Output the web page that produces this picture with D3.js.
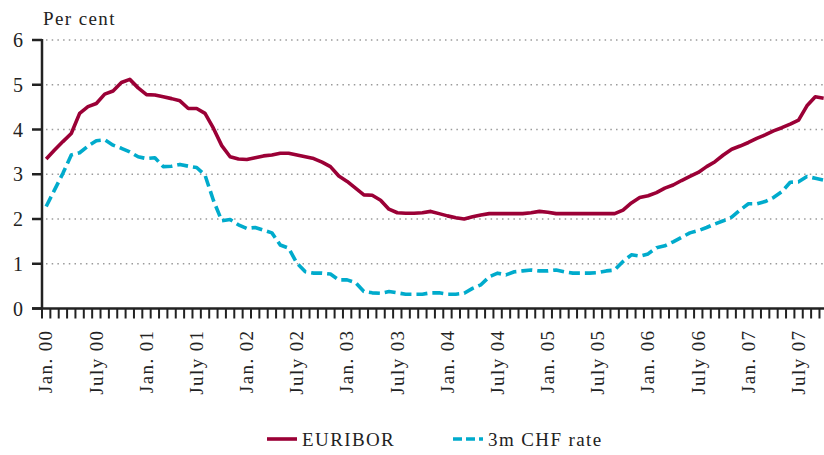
<!DOCTYPE html>
<html>
<head>
<meta charset="utf-8">
<script src="https://cdn.jsdelivr.net/npm/d3@7"></script>
<style>
  body { margin: 0; background: #fff; }
  svg text { font-family: 'Liberation Serif', 'Times New Roman', serif; fill: #222; }
</style>
</head>
<body>
<div id="chart"></div>
<script>
// monthly values, Jan. 2000 .. Oct. 2007
const euribor = [
  3.34, 3.54, 3.73, 3.91, 4.36, 4.51, 4.58, 4.79, 4.86, 5.05, 5.12, 4.93,
  4.78, 4.77, 4.73, 4.69, 4.64, 4.47, 4.47, 4.36, 4.03, 3.64, 3.39, 3.34,
  3.33, 3.37, 3.41, 3.43, 3.47, 3.47, 3.43, 3.39, 3.35, 3.27, 3.17, 2.96,
  2.84, 2.69, 2.54, 2.53, 2.42, 2.22, 2.14, 2.13, 2.13, 2.14, 2.17, 2.12,
  2.07, 2.03, 2.0, 2.05, 2.09, 2.12, 2.12, 2.12, 2.12, 2.12, 2.14, 2.17,
  2.15, 2.12, 2.12, 2.12, 2.12, 2.12, 2.12, 2.12, 2.12, 2.2, 2.36, 2.48,
  2.52, 2.59, 2.69, 2.76, 2.86, 2.95, 3.04, 3.17, 3.28, 3.43, 3.56, 3.63,
  3.71, 3.8, 3.88, 3.97, 4.04, 4.12, 4.21, 4.53, 4.73, 4.7,
];

const chf = [
  2.28, 2.65, 3.02, 3.43, 3.48, 3.63, 3.75, 3.77, 3.65, 3.58, 3.5, 3.39,
  3.35, 3.37, 3.17, 3.18, 3.22, 3.18, 3.15, 2.98, 2.42, 1.96, 1.99, 1.87,
  1.79, 1.81, 1.75, 1.69, 1.42, 1.35, 1.01, 0.82, 0.79, 0.79, 0.77, 0.64,
  0.64, 0.58, 0.38, 0.35, 0.34, 0.38, 0.35, 0.32, 0.32, 0.32, 0.35, 0.35,
  0.32, 0.32, 0.34, 0.45, 0.53, 0.71, 0.79, 0.75, 0.82, 0.84, 0.86, 0.84,
  0.84, 0.86, 0.82, 0.79, 0.79, 0.79, 0.8, 0.84, 0.86, 1.05, 1.2, 1.17,
  1.22, 1.36, 1.4, 1.49, 1.59, 1.69, 1.74, 1.81, 1.89, 1.96, 2.04, 2.2,
  2.34, 2.34, 2.39, 2.48, 2.61, 2.82, 2.83, 2.95, 2.91, 2.87,
];

const tickLabels = [
  'Jan. 00', 'July 00', 'Jan. 01', 'July 01', 'Jan. 02', 'July 02',
  'Jan. 03', 'July 03', 'Jan. 04', 'July 04', 'Jan. 05', 'July 05',
  'Jan. 06', 'July 06', 'Jan. 07', 'July 07',
];

const yTicks = [0, 1, 2, 3, 4, 5, 6];

const series = [
  { name: 'EURIBOR', values: euribor, color: '#9b0036', dash: null },
  { name: '3m CHF rate', values: chf, color: '#00abcc', dash: '11,5' },
];

const width = 824,
  height = 455,
  nMonths = euribor.length;

const x = d3.scaleLinear().domain([0, nMonths]).range([42, 42 + nMonths * 8.36]);
const y = d3.scaleLinear().domain([0, 6]).range([308.5, 40]);

const svg = d3
  .select('#chart')
  .append('svg')
  .attr('width', width)
  .attr('height', height);

// dotted grid
svg
  .selectAll('.grid')
  .data(yTicks.filter((d) => d > 0))
  .enter()
  .append('line')
  .attr('class', 'grid')
  .attr('x1', 46)
  .attr('x2', width)
  .attr('y1', (d) => y(d))
  .attr('y2', (d) => y(d))
  .attr('stroke', '#9a9a9a')
  .attr('stroke-width', 1.5)
  .attr('stroke-dasharray', '1.5,4.2');

// y axis
const yAxis = svg.append('g').attr('transform', `translate(${x(0)},0)`);
yAxis
  .append('line')
  .attr('y1', y(6) - 1)
  .attr('y2', y(0))
  .attr('stroke', '#222')
  .attr('stroke-width', 2.5);
yAxis
  .selectAll('.ytick')
  .data(yTicks)
  .enter()
  .append('line')
  .attr('x1', -10)
  .attr('x2', 0)
  .attr('y1', (d) => y(d))
  .attr('y2', (d) => y(d))
  .attr('stroke', '#222')
  .attr('stroke-width', 2.5);
yAxis
  .selectAll('text')
  .data(yTicks)
  .enter()
  .append('text')
  .attr('x', -19)
  .attr('y', (d) => y(d))
  .attr('dy', '0.35em')
  .attr('text-anchor', 'end')
  .style('font-size', '20px')
  .text((d) => d);

svg
  .append('text')
  .attr('x', 43)
  .attr('y', 25)
  .style('font-size', '19px')
  .style('letter-spacing', '1.4px')
  .text('Per cent');

// x axis with monthly ticks
const xAxis = svg.append('g').attr('transform', `translate(0,${y(0)})`);
xAxis
  .append('line')
  .attr('x1', 32)
  .attr('x2', width)
  .attr('stroke', '#222')
  .attr('stroke-width', 2.5);
xAxis
  .selectAll('.xtick')
  .data(d3.range(0, nMonths + 1))
  .enter()
  .append('line')
  .attr('x1', (d) => x(d))
  .attr('x2', (d) => x(d))
  .attr('y1', 0)
  .attr('y2', 10)
  .attr('stroke', '#222')
  .attr('stroke-width', 2);
xAxis
  .selectAll('text')
  .data(tickLabels)
  .enter()
  .append('text')
  .attr('transform', (d, i) => `translate(${x(i * 6 + 0.5)},21) rotate(-90)`)
  .attr('dy', '0.33em')
  .attr('text-anchor', 'end')
  .style('font-size', '19px')
  .style('letter-spacing', '1.4px')
  .text((d) => d);

// lines
const line = d3
  .line()
  .x((d, i) => x(i + 0.5))
  .y((d) => y(d));

svg
  .selectAll('.series')
  .data(series)
  .enter()
  .append('path')
  .attr('class', 'series')
  .attr('d', (d) => line(d.values))
  .attr('fill', 'none')
  .attr('stroke', (d) => d.color)
  .attr('stroke-width', 3.6)
  .attr('stroke-linejoin', 'round')
  .attr('stroke-dasharray', (d) => d.dash);

// legend
const legendX = [267, 453];
const legend = svg
  .selectAll('.legend')
  .data(series)
  .enter()
  .append('g')
  .attr('class', 'legend')
  .attr('transform', (d, i) => `translate(${legendX[i]},439)`);
legend
  .append('line')
  .attr('x1', 0)
  .attr('x2', 30)
  .attr('stroke', (d) => d.color)
  .attr('stroke-width', 3.6)
  .attr('stroke-dasharray', (d) => (d.dash ? '9,4' : null));
legend
  .append('text')
  .attr('x', 35)
  .attr('y', 7)
  .style('font-size', '19px')
  .style('letter-spacing', '1.4px')
  .text((d) => d.name);
</script>
</body>
</html>
